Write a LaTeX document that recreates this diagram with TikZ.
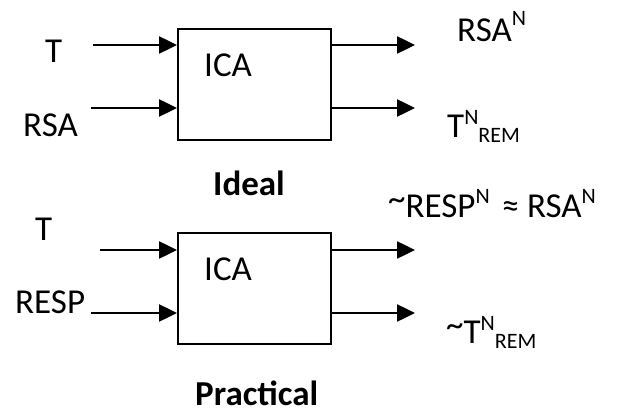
\documentclass[tikz,border=0pt]{standalone}
\usepackage{fontspec}
\setmainfont{Carlito}
\usetikzlibrary{arrows.meta}
\newcommand{\bigf}{\fontsize{35}{40}\selectfont}
\newcommand{\smf}{\fontsize{22}{24}\selectfont}
\newcommand{\supN}[1]{\raisebox{#1}{\smf N}}
\newcommand{\subR}{\raisebox{-5pt}{\smf REM}}
\newcommand{\hitilde}{\raisebox{7pt}{\textasciitilde}}
\begin{document}
\begin{tikzpicture}[x=1pt,y=-1pt,
  txt/.style={anchor=base west,inner sep=0pt,font=\bigf},
  blk/.style={draw,line width=2pt,minimum width=153pt,minimum height=111pt,inner sep=0pt},
  arr/.style={line width=2.5pt,-{Triangle[length=18pt,width=17pt]}}]
\useasboundingbox (0,0) rectangle (623,414);
% Ideal
\node[blk,anchor=north west] (b1) at (177,28) {};
\node[txt] (ica1) at (204,77) {ICA};
\node[txt] (t1) at (45,63) {T};
\node[txt] (rsa1) at (23,137) {RSA};
\node[txt] (rsan) at (457,42) {RSA\supN{16pt}};
\node[txt] (trem) at (447,138) {T\supN{13pt}\subR};
\node[txt,font=\bigf\bfseries] (ideal) at (213,195) {Ideal};
\coordinate (i1) at (93,45);
\coordinate (i2) at (91,108);
\coordinate (o1) at (415,45);
\coordinate (o2) at (415,108);
\draw[arr] (i1) -- (i1 -| b1.west);
\draw[arr] (i2) -- (i2 -| b1.west);
\draw[arr] (o1 -| b1.east) -- (o1);
\draw[arr] (o2 -| b1.east) -- (o2);
% Practical
\node[blk,anchor=north west] (b2) at (177,232) {};
\node[txt] (ica2) at (204,280) {ICA};
\node[txt] (t2) at (35,240) {T};
\node[txt] (resp) at (15,313) {RESP};
\node[txt] (approx) at (388,217) {\hitilde RESP\supN{14pt}\hspace{12pt}≈ RSA\supN{14pt}};
\node[txt] (trem2) at (446,343) {\hitilde T\supN{13pt}\subR};
\node[txt,font=\bigf\bfseries] (prac) at (195,405) {Practical};
\coordinate (j1) at (100,250);
\coordinate (j2) at (91,313);
\coordinate (p1) at (415,250);
\coordinate (p2) at (415,313);
\draw[arr] (j1) -- (j1 -| b2.west);
\draw[arr] (j2) -- (j2 -| b2.west);
\draw[arr] (p1 -| b2.east) -- (p1);
\draw[arr] (p2 -| b2.east) -- (p2);
\end{tikzpicture}
\end{document}
